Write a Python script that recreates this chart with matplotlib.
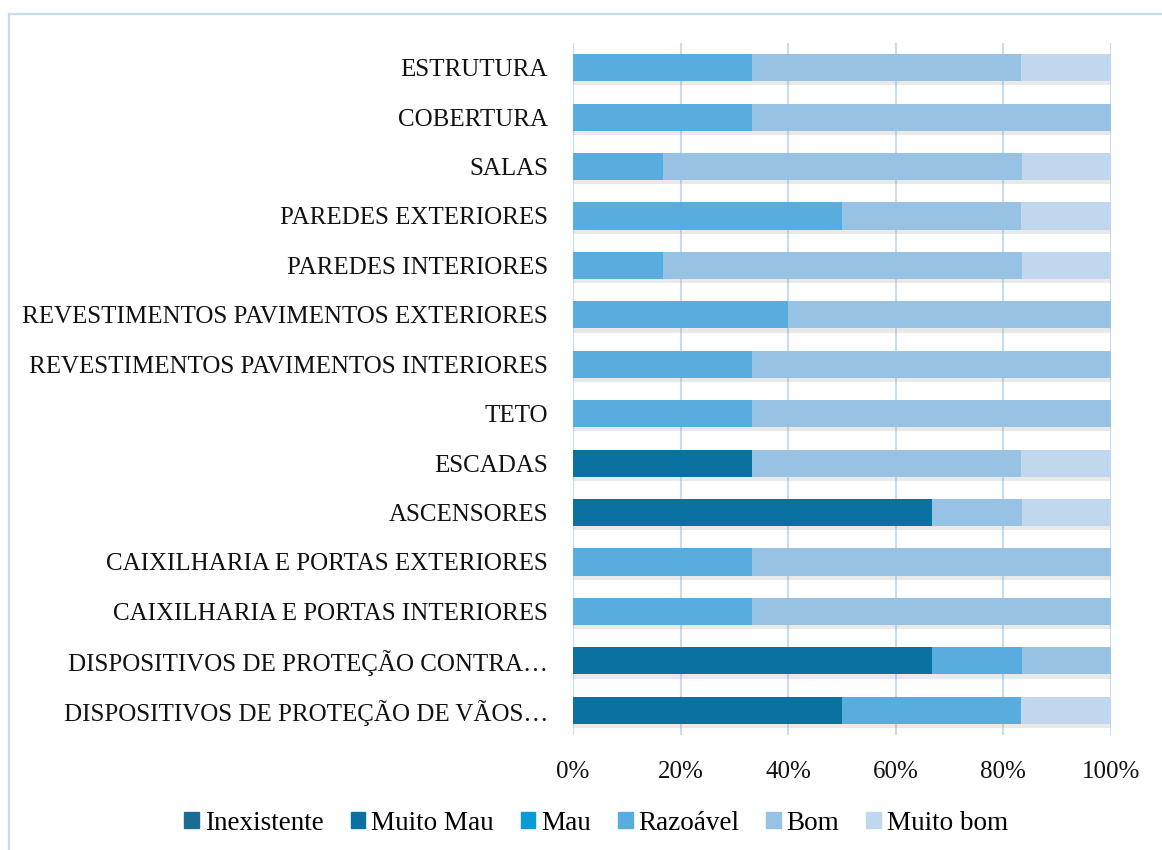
import matplotlib as mpl
import matplotlib.pyplot as plt
import matplotlib.patheffects as pe
from matplotlib.lines import Line2D
from matplotlib.ticker import FuncFormatter

# ── Data (percent of answers) ───────────────────────────────────────
categories = [
    "ESTRUTURA",
    "COBERTURA",
    "SALAS",
    "PAREDES EXTERIORES",
    "PAREDES INTERIORES",
    "REVESTIMENTOS PAVIMENTOS EXTERIORES",
    "REVESTIMENTOS PAVIMENTOS INTERIORES",
    "TETO",
    "ESCADAS",
    "ASCENSORES",
    "CAIXILHARIA E PORTAS EXTERIORES",
    "CAIXILHARIA E PORTAS INTERIORES",
    "DISPOSITIVOS DE PROTEÇÃO CONTRA…",
    "DISPOSITIVOS DE PROTEÇÃO DE VÃOS…",
]
inexistente = [0, 0, 0, 0, 0, 0, 0, 0, 0, 0, 0, 0, 0, 0]
muito_mau = [0, 0, 0, 0, 0, 0, 0, 0, 33.3, 66.7, 0, 0, 66.7, 50.0]
mau = [0, 0, 0, 0, 0, 0, 0, 0, 0, 0, 0, 0, 0, 0]
razoavel = [33.3, 33.3, 16.7, 50.0, 16.7, 40.0, 33.3, 33.3, 0, 0, 33.3, 33.3, 16.7, 33.3]
bom = [50.0, 66.7, 66.7, 33.3, 66.7, 60.0, 66.7, 66.7, 50.0, 16.7, 66.7, 66.7, 16.7, 0]
muito_bom = [16.7, 0, 16.7, 16.7, 16.7, 0, 0, 0, 16.7, 16.7, 0, 0, 0, 16.7]

series_names = ["Inexistente", "Muito Mau", "Mau", "Razoável", "Bom", "Muito bom"]
series_vals = [inexistente, muito_mau, mau, razoavel, bom, muito_bom]
x_ticks = [0, 20, 40, 60, 80, 100]

# ── Style ───────────────────────────────────────────────────────────
mpl.rcParams.update({
    "font.family": "serif",
    "font.serif": ["Liberation Serif", "DejaVu Serif"],
    "font.size": 18,
})

COLORS = ["#1d6b91", "#0a71a0", "#0a9bd6", "#58acde", "#97c2e4", "#c1d7ed"]
GRID = "#c8dcf0"

fig = plt.figure(figsize=(11.62, 8.5), dpi=100)
ax = fig.add_axes([573 / 1162, 1 - 735 / 850, (1111 - 573) / 1162, (735 - 43) / 850])

ypos = list(range(len(categories)))
shadow = [pe.SimplePatchShadow(offset=(0, -3), shadow_rgbFace="#8a8a8a", alpha=0.18),
          pe.Normal()]

left = [0.0] * len(categories)
for name, vals, col in zip(series_names, series_vals, COLORS):
    ax.barh(ypos, vals, left=left, height=0.55, color=col, label=name,
            path_effects=shadow, zorder=3)
    left = [a + b for a, b in zip(left, vals)]

ax.set_xlim(0, 100)
ax.set_ylim(len(categories) - 0.5, -0.5)
ax.set_yticks(ypos)
ax.set_yticklabels(categories)
ax.set_xticks(x_ticks)
ax.xaxis.set_major_formatter(FuncFormatter(lambda v, _: f"{v:.0f}%"))
ax.tick_params(axis="both", length=0, labelsize=18, colors="#111111")
ax.tick_params(axis="y", pad=18)
ax.tick_params(axis="x", pad=19)

ax.grid(axis="x", color=GRID, linewidth=1.5, zorder=0)
ax.set_axisbelow(True)
for s in ax.spines.values():
    s.set_visible(False)

handles = [mpl.patches.Patch(color=c) for c in COLORS]
fig.legend(handles, series_names, loc="center", bbox_to_anchor=(596 / 1162, 1 - 823 / 850),
           ncol=6, frameon=False, fontsize=19.5, handlelength=0.55, handleheight=0.55,
           handletextpad=0.2, columnspacing=1.0)

# chart frame (cropped)
fig.add_artist(Line2D([9 / 1162, 9 / 1162], [0, 1 - 14 / 850], color=GRID, lw=1.6,
                      transform=fig.transFigure))
fig.add_artist(Line2D([9 / 1162, 1], [1 - 14 / 850, 1 - 14 / 850], color=GRID, lw=1.6,
                      transform=fig.transFigure))

fig.savefig("out.png", dpi=100)
